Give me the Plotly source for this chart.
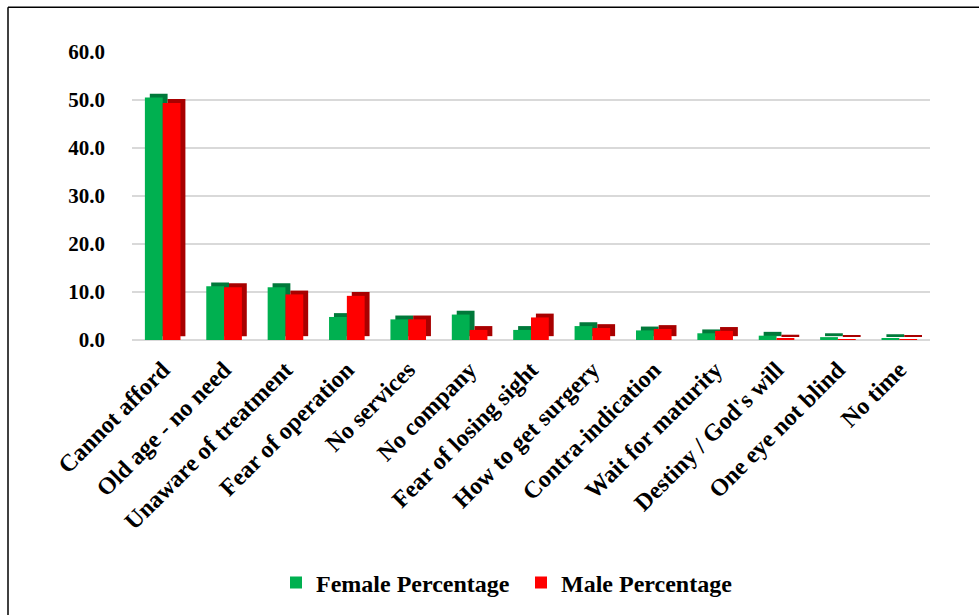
import plotly.graph_objects as go

categories = ["Cannot afford", "Old age - no need", "Unaware of treatment", "Fear of operation",
              "No services", "No company", "Fear of losing sight", "How to get surgery",
              "Contra-indication", "Wait for maturity", "Destiny / God's will",
              "One eye not blind", "No time"]
female = [50.5, 11.2, 11.0, 4.8, 4.3, 5.3, 2.1, 2.9, 2.0, 1.4, 0.9, 0.6, 0.4]
male = [49.4, 11.0, 9.5, 9.2, 4.3, 2.1, 4.7, 2.5, 2.3, 1.9, 0.3, 0.2, 0.2]

W = 0.29     # bar width (category units)
D = 0.08     # 3D depth offset x
DY = 0.8     # 3D depth offset y

GREEN, DGREEN = "#00B050", "#00793A"
RED, DRED = "#FF0000", "#A80000"

fig = go.Figure()
fig.add_trace(go.Bar(x=categories, y=female, base=[DY] * len(female), offset=-W + D, width=W,
                     marker=dict(color=DGREEN, line_width=0), showlegend=False, hoverinfo="skip"))
fig.add_trace(go.Bar(x=categories, y=female, offset=-W, width=W, name="Female Percentage",
                     marker=dict(color=GREEN, line_width=0)))
fig.add_trace(go.Bar(x=categories, y=male, base=[DY] * len(male), offset=D, width=W,
                     marker=dict(color=DRED, line_width=0), showlegend=False, hoverinfo="skip"))
fig.add_trace(go.Bar(x=categories, y=male, offset=0, width=W, name="Male Percentage",
                     marker=dict(color=RED, line_width=0)))

yfont = dict(family="Liberation Serif", size=21, color="black", weight="bold")
xfont = dict(family="Liberation Serif", size=24, color="black", weight="bold")
lfont = dict(family="Liberation Serif", size=24, color="black", weight="bold")

L, R, T, B = 132, 49, 52, 274
pw, ph = 979 - L - R, 615 - T - B

fig.update_layout(
    width=979, height=615,
    margin=dict(l=L, r=R, t=T, b=B),
    barmode="overlay",
    plot_bgcolor="white", paper_bgcolor="white",
    font=yfont,
    xaxis=dict(tickangle=-45, tickfont=xfont,
               showgrid=False, showline=False, zeroline=False, ticklabelstandoff=10),
    yaxis=dict(range=[0, 60], dtick=10, tickformat=".1f", tickfont=yfont,
               showgrid=True, gridcolor="#D9D9D9", gridwidth=2, zeroline=True,
               zerolinecolor="#D9D9D9", zerolinewidth=2, showline=False, ticklabelstandoff=26),
    legend=dict(orientation="h", x=(276 - L) / pw, xanchor="left", y=(341 - 583) / ph, yanchor="middle",
                font=lfont, itemwidth=30, entrywidth=200, traceorder="normal"),
    shapes=[
        dict(type="line", xref="paper", yref="paper", x0=(8 - L) / pw, x1=(985 - L) / pw,
             y0=(341 - 7) / ph, y1=(341 - 7) / ph, line=dict(color="black", width=1.5)),
        dict(type="line", xref="paper", yref="paper", x0=(8 - L) / pw, x1=(8 - L) / pw,
             y0=(341 - 7) / ph, y1=(341 - 625) / ph, line=dict(color="black", width=1.5)),
    ],
)

fig.write_html("out.html", config={"displayModeBar": False},
               post_script="document.body.style.margin='0px';")
